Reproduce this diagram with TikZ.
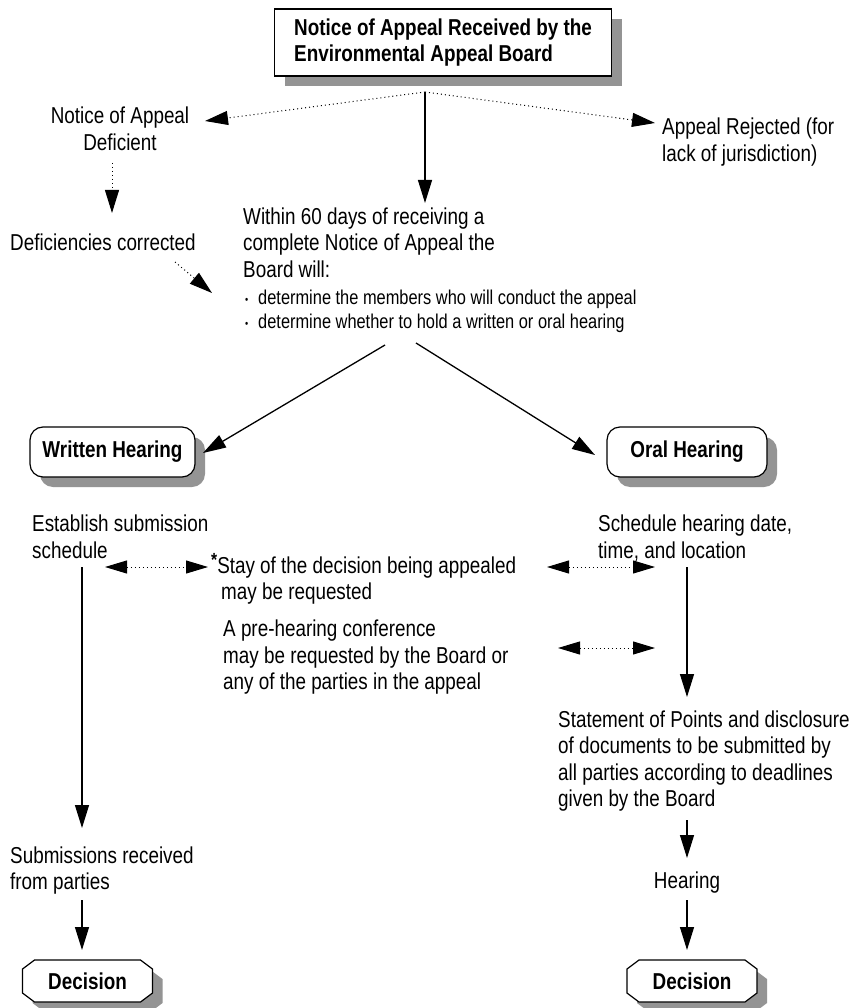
\documentclass[tikz,border=0pt]{standalone}
\usepackage{fontspec}
\setmainfont{Liberation Sans}[FakeStretch=0.82]
\usetikzlibrary{arrows.meta,shadows,calc}
\newcommand\bodysize{\fontsize{23}{26.5}\selectfont}
\newcommand\smallsize{\fontsize{20}{24.5}\selectfont}
\newcommand\bul{\makebox[13pt][l]{\raisebox{1pt}{\fontsize{11}{11}\selectfont\textbullet}}}
\begin{document}
\begin{tikzpicture}[x=1pt,y=-1pt,
  tipa/.style={-{Triangle[length=23pt,width=14pt]}},
  solidarrow/.style={tipa,line width=1.3pt},
  dotarrow/.style={tipa,line width=1pt,dash pattern=on 1pt off 3pt},
  dblarrow/.style={{Triangle[length=22pt,width=13pt]}-{Triangle[length=22pt,width=13pt]},line width=1pt,dash pattern=on 1pt off 3pt},
  txt/.style={inner sep=0pt,align=left,font=\bodysize},
  shadowed/.style={drop shadow={shadow xshift=10pt,shadow yshift=-10pt,fill=black!42,opacity=1}},
  titlebox/.style={draw,line width=1.2pt,fill=white,shadowed,minimum width=337pt,minimum height=67pt,inner sep=0pt,align=left,font=\bodysize\bfseries},
  roundbox/.style={draw,line width=1.2pt,fill=white,rounded corners=13pt,shadowed,minimum height=50pt,inner sep=0pt,font=\bodysize\bfseries},
  octshape/.style={line width=1.2pt},
  octlabel/.style={inner sep=0pt,minimum width=130pt,minimum height=42pt,font=\bodysize\bfseries}]
\fill[white] (0,0) rectangle (857,1008);
\useasboundingbox (0,0) rectangle (857,1008);

% title
\node[titlebox] (title) at (443,42.5) {Notice of Appeal Received by the\\Environmental Appeal Board};
\coordinate (J) at (425,92);

% top branches
\node[txt,anchor=north,align=center] (ndef) at (120,107) {Notice of Appeal\\Deficient};
\node[txt,anchor=north west] (rej) at (662,118) {Appeal Rejected (for\\lack of jurisdiction)};
\coordinate (ndefTip) at (205,121);
\coordinate (rejTip) at (655,123);
\draw[dotarrow] (J) -- (ndefTip);
\draw[dotarrow] (J) -- (rejTip);

\node[txt,anchor=north west] (defc) at (10,234) {Deficiencies corrected};
\coordinate (ndefOut) at (112,163);
\coordinate (defcIn) at (112,213);
\draw[dotarrow] (ndefOut) -- (defcIn);

\node[txt,anchor=north west] (main) at (243,207.5) {Within 60 days of receiving a\\complete Notice of Appeal the\\Board will:};
\node[inner sep=0pt,align=left,font=\smallsize,anchor=north west] (bullets) at (245,289.6)
  {\bul determine the members who will conduct the appeal\\\bul determine whether to hold a written or oral hearing};
\coordinate (mainTip) at (425,203);
\draw[solidarrow] (J) -- (mainTip);
\coordinate (defcOut) at (175,262);
\coordinate (bulTip) at (212,293);
\draw[dotarrow] (defcOut) -- (bulTip);

% hearings
\node[roundbox,minimum width=165pt] (written) at (112.5,452) {Written Hearing};
\node[roundbox,minimum width=160pt] (oral) at (687,452) {Oral Hearing};
\coordinate (splitL) at (385,345);
\coordinate (splitR) at (416,343);
\coordinate (wTip) at (203,453);
\coordinate (oTip) at (595,455);
\draw[solidarrow] (splitL) -- (wTip);
\draw[solidarrow] (splitR) -- (oTip);

\node[txt,anchor=north west] (estab) at (32,515) {Establish submission\\schedule};
\node[txt,anchor=north west] (sched) at (598,515) {Schedule hearing date,\\time, and location};

% middle
\node[txt,anchor=north west] (stay) at (211,556.5) {\smash{\raisebox{7pt}{\fontsize{19}{19}\selectfont\bfseries *}}Stay of the decision being appealed\\\hspace*{10pt}may be requested};
\node[txt,anchor=north west] (pre) at (223,620) {A pre-hearing conference\\may be requested by the Board or\\any of the parties in the appeal};
\coordinate (d1a) at (105,567);
\coordinate (d1b) at (208,567);
\coordinate (d2a) at (547,567);
\coordinate (d2b) at (655,567);
\coordinate (d3a) at (558,648);
\coordinate (d3b) at (655,648);
\draw[dblarrow] (d1a) -- (d1b);
\draw[dblarrow] (d2a) -- (d2b);
\draw[dblarrow] (d3a) -- (d3b);

% left column
\coordinate (estabOut) at (82,567);
\coordinate (submIn) at (82,828);
\draw[solidarrow] (estabOut) -- (submIn);
\node[txt,anchor=north west] (subm) at (10,846.5) {Submissions received\\from parties};

% right column
\coordinate (schedOut) at (687,567);
\coordinate (statIn) at (687,697);
\draw[solidarrow] (schedOut) -- (statIn);
\node[txt,anchor=north west] (stat) at (558,710.5) {Statement of Points and disclosure\\of documents to be submitted by\\all parties according to deadlines\\given by the Board};
\node[txt,anchor=center] (hear) at (687,883) {Hearing};
\coordinate (statOut) at (687,820);
\coordinate (hearIn) at (687,858);
\draw[solidarrow] (statOut) -- (hearIn);

% decisions
\foreach \cx/\nm in {87.5/decL,692/decR}{
  \fill[black!42,shift={(\cx+10,991)}] (-53,-21) -- (53,-21) -- (65,-12) -- (65,12) -- (53,21) -- (-53,21) -- (-65,12) -- (-65,-12) -- cycle;
  \filldraw[octshape,fill=white,shift={(\cx,981)}] (-53,-21) -- (53,-21) -- (65,-12) -- (65,12) -- (53,21) -- (-53,21) -- (-65,12) -- (-65,-12) -- cycle;
  \node[octlabel] (\nm) at (\cx,981) {Decision};
}
\coordinate (submOut) at (82,900);
\coordinate (decLIn) at (82,950);
\coordinate (hearOut) at (687,900);
\coordinate (decRIn) at (687,950);
\draw[solidarrow] (submOut) -- (decLIn);
\draw[solidarrow] (hearOut) -- (decRIn);
\end{tikzpicture}
\end{document}
